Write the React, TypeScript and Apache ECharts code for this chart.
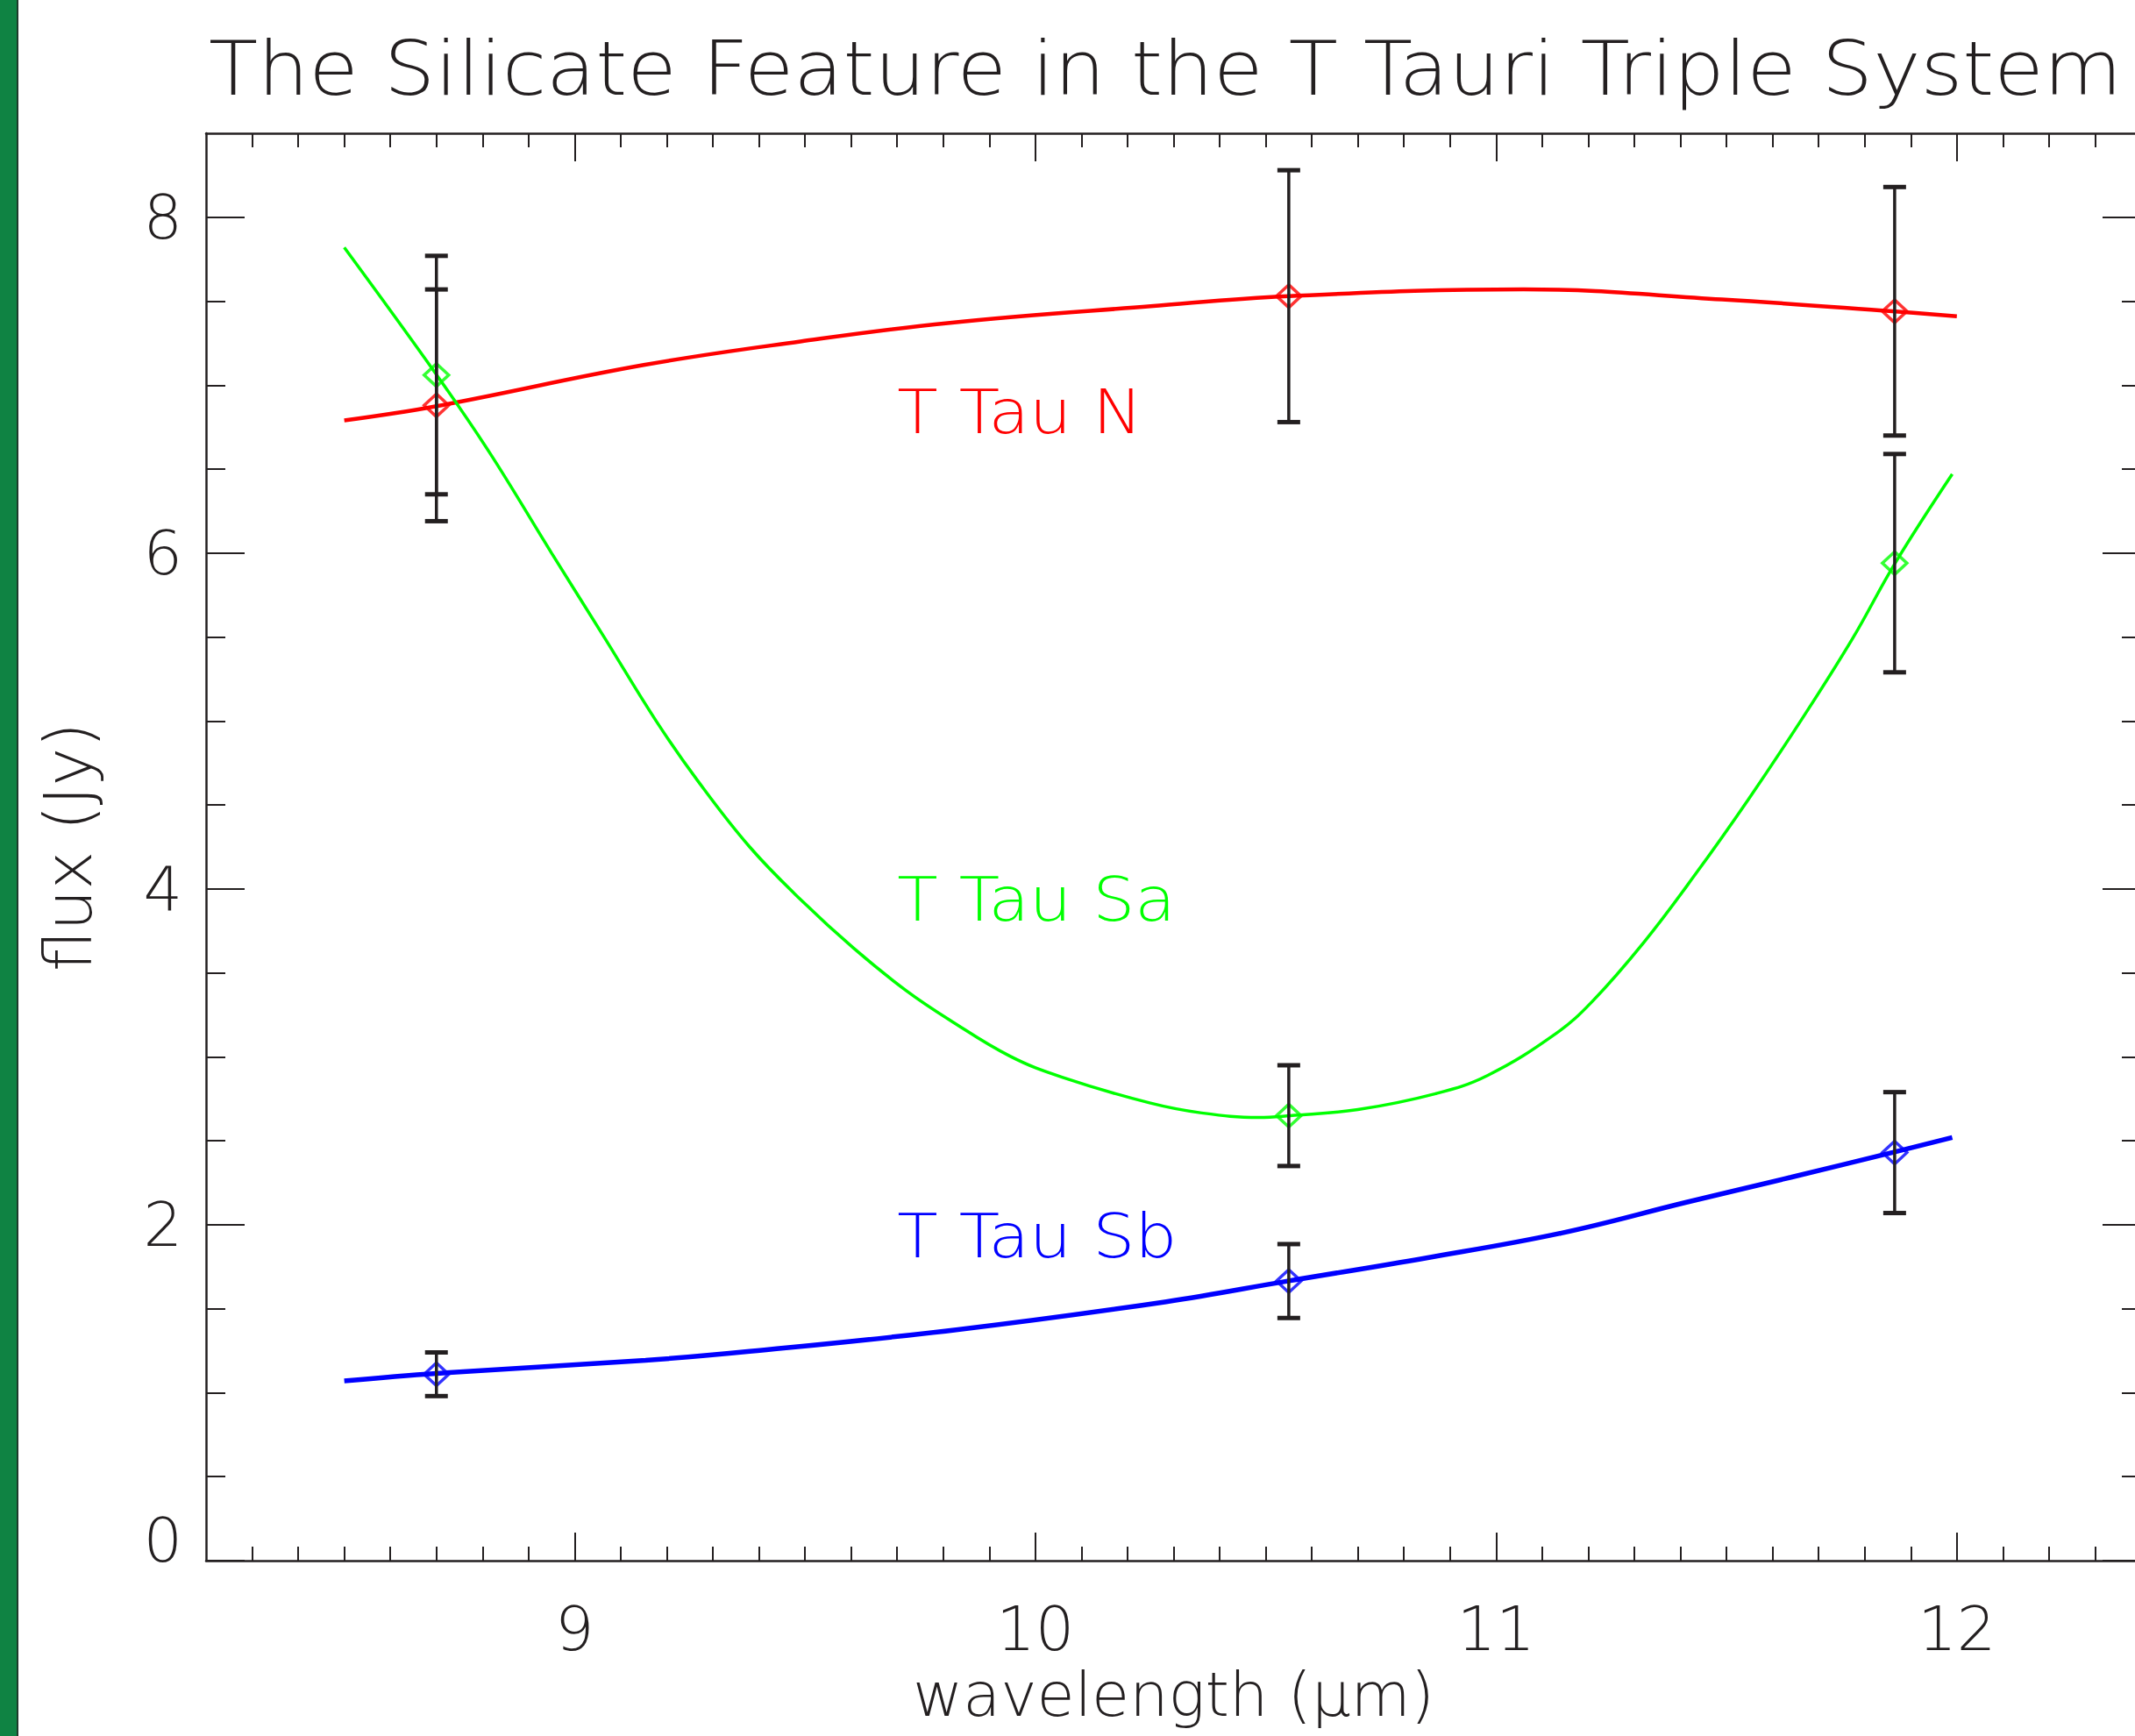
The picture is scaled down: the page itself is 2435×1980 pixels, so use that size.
import React, { useEffect, useRef } from 'react';
import * as echarts from 'echarts';

// ---- data ----
const pointWavelengths = [8.70, 10.55, 11.865];
const fluxN = [6.88, 7.53, 7.44];
const errN = [0.69, 0.75, 0.74];
const fluxSa = [7.06, 2.65, 5.94];
const errSa = [0.71, 0.30, 0.65];
const fluxSb = [1.11, 1.665, 2.43];
const errSb = [0.13, 0.22, 0.36];

const curveNx = [8.50, 8.70, 9.15, 9.49, 9.81, 10.25, 10.55, 11.06, 11.49, 11.86, 12.0];
const curveNy = [6.79, 6.875, 7.12, 7.26, 7.37, 7.47, 7.53, 7.57, 7.51, 7.44, 7.41];

const curveSax = [8.50, 8.70, 8.815, 8.95, 9.064, 9.177, 9.267, 9.38, 9.493, 9.606, 9.719, 9.815, 9.945, 10.058, 10.248, 10.361, 10.485, 10.553, 10.70, 10.869, 10.982, 11.129, 11.208, 11.321, 11.434, 11.547, 11.66, 11.773, 11.866, 11.99];
const curveSay = [7.82, 7.063, 6.60, 6.0, 5.50, 5.00, 4.645, 4.25, 3.93, 3.646, 3.396, 3.218, 3.004, 2.879, 2.726, 2.666, 2.639, 2.65, 2.686, 2.781, 2.89, 3.137, 3.328, 3.683, 4.093, 4.531, 4.996, 5.488, 5.94, 6.47];

const curveSbx = [8.50, 8.70, 9.154, 9.38, 9.832, 10.284, 10.55, 10.849, 11.142, 11.413, 11.64, 11.861, 11.99];
const curveSby = [1.07, 1.115, 1.193, 1.246, 1.376, 1.542, 1.666, 1.803, 1.951, 2.134, 2.283, 2.431, 2.52];

const labelNames = ['T Tau N', 'T Tau Sa', 'T Tau Sb'];
const labelX = [9.7, 9.7, 9.7];
const labelY = [6.84, 3.935, 1.93];

const xTickValues = [9, 10, 11, 12];
const yTickValues = [0, 2, 4, 6, 8];
const xMinorTickValues = [8.3, 8.4, 8.5, 8.6, 8.7, 8.8, 8.9, 9.1, 9.2, 9.3, 9.4, 9.5, 9.6, 9.7, 9.8, 9.9, 10.1, 10.2, 10.3, 10.4, 10.5, 10.6, 10.7, 10.8, 10.9, 11.1, 11.2, 11.3, 11.4, 11.5, 11.6, 11.7, 11.8, 11.9, 12.1, 12.2, 12.3];
const yMinorTickValues = [0.5, 1, 1.5, 2.5, 3, 3.5, 4.5, 5, 5.5, 6.5, 7, 7.5];

const title = 'The Silicate Feature in the T Tauri Triple System';
const xName = 'wavelength (\u03bcm)';
const yName = 'flux (Jy)';

const RED = '#ff0000';
const GREEN = '#00ff00';
const BLUE = '#0000ff';
const INK = '#231f20';
const FONT = '"DejaVu Sans"';
const WEIGHT = 200;

const zip = (a: number[], b: number[]) => a.map((v, i) => [v, b[i]]);

export default function App() {
  const ref = useRef<HTMLDivElement>(null);
  useEffect(() => {
    document.body.style.margin = '0';
    document.body.style.overflow = 'hidden';
    const chart = echarts.init(ref.current!, null, { renderer: 'svg' });

    const axisBase = {
      type: 'value' as const,
      axisLine: { show: true, onZero: false, lineStyle: { color: INK, width: 2.5 } },
      splitLine: { show: false },
      axisLabel: { show: false },
    };
    const xBase = { ...axisBase, min: 8.2, max: 12.4 };
    const yBase = { ...axisBase, min: 0, max: 8.5 };

    const errData = [
      ...pointWavelengths.map((x, i) => [x, fluxN[i], errN[i]]),
      ...pointWavelengths.map((x, i) => [x, fluxSa[i], errSa[i]]),
      ...pointWavelengths.map((x, i) => [x, fluxSb[i], errSb[i]]),
    ];
    const colors = [RED, GREEN, BLUE];

    const markerSeries = (data: number[], color: string) => ({
      type: 'scatter',
      data: pointWavelengths.map((x, i) => [x, data[i]]),
      symbol: 'diamond',
      symbolSize: [28, 26],
      itemStyle: { color: 'rgba(0,0,0,0)', borderColor: color, borderWidth: 3.5 },
      z: 4,
    });

    chart.setOption({
      animation: false,
      backgroundColor: '#ffffff',
      graphic: [
        { type: 'rect', shape: { x: 0, y: 0, width: 19, height: 1980 }, style: { fill: '#0f8343' } },
        { type: 'rect', shape: { x: 19, y: 0, width: 2, height: 1980 }, style: { fill: '#1d3b2b' } },
        {
          type: 'text',
          x: 238,
          y: 79,
          scaleX: 1.08,
          style: {
            text: title,
            fill: INK,
            fontSize: 85,
            fontFamily: FONT,
            fontWeight: WEIGHT,
            align: 'left',
            verticalAlign: 'middle',
          },
        },
      ],
      grid: { left: 235, right: -7, top: 152, bottom: 200, containLabel: false, outerBoundsMode: 'none' },
      xAxis: [
        {
          ...xBase,
          position: 'bottom',
          axisTick: { show: true, inside: true, length: 32, customValues: xTickValues, lineStyle: { color: INK, width: 2 } },
          axisLabel: { show: true, customValues: xTickValues, margin: 43, fontSize: 70, fontFamily: FONT, fontWeight: WEIGHT, color: INK },
          name: xName,
          nameLocation: 'middle',
          nameGap: 116,
          nameTextStyle: { fontSize: 70, lineHeight: 70, fontFamily: FONT, fontWeight: WEIGHT, color: INK },
        },
        {
          ...xBase,
          position: 'bottom',
          axisLine: { show: false, onZero: false },
          axisTick: { show: true, inside: true, length: 16, customValues: xMinorTickValues, lineStyle: { color: INK, width: 2 } },
        },
        {
          ...xBase,
          position: 'top',
          axisTick: { show: true, inside: true, length: 32, customValues: xTickValues, lineStyle: { color: INK, width: 2 } },
        },
        {
          ...xBase,
          position: 'top',
          axisLine: { show: false, onZero: false },
          axisTick: { show: true, inside: true, length: 16, customValues: xMinorTickValues, lineStyle: { color: INK, width: 2 } },
        },
      ],
      yAxis: [
        {
          ...yBase,
          position: 'left',
          axisTick: { show: true, inside: true, length: 44, customValues: yTickValues, lineStyle: { color: INK, width: 2 } },
          axisLabel: {
            show: true,
            customValues: yTickValues,
            margin: 27,
            fontSize: 70,
            lineHeight: 46,
            fontFamily: FONT,
            fontWeight: WEIGHT,
            color: INK,
            formatter: (v: number) => (v === 0 ? '0\n' : String(v)),
          },
          name: yName,
          nameLocation: 'middle',
          nameGap: 120,
          nameTextStyle: { fontSize: 74, fontFamily: FONT, fontWeight: WEIGHT, color: INK },
        },
        {
          ...yBase,
          position: 'left',
          axisLine: { show: false, onZero: false },
          axisTick: { show: true, inside: true, length: 22, customValues: yMinorTickValues, lineStyle: { color: INK, width: 2 } },
        },
        {
          ...yBase,
          position: 'right',
          axisTick: { show: true, inside: true, length: 44, customValues: yTickValues, lineStyle: { color: INK, width: 2 } },
        },
        {
          ...yBase,
          position: 'right',
          axisLine: { show: false, onZero: false },
          axisTick: { show: true, inside: true, length: 22, customValues: yMinorTickValues, lineStyle: { color: INK, width: 2 } },
        },
      ],
      series: [
        { type: 'line', data: zip(curveNx, curveNy), smooth: 0.4, showSymbol: false, lineStyle: { color: RED, width: 4.5 }, z: 3 },
        { type: 'line', data: zip(curveSax, curveSay), smooth: 0.4, showSymbol: false, lineStyle: { color: GREEN, width: 3.5 }, z: 3 },
        { type: 'line', data: zip(curveSbx, curveSby), smooth: 0.4, showSymbol: false, lineStyle: { color: BLUE, width: 5.5 }, z: 3 },
        markerSeries(fluxN, RED),
        markerSeries(fluxSa, GREEN),
        markerSeries(fluxSb, BLUE),
        {
          type: 'custom',
          data: errData,
          z: 5,
          clip: false,
          renderItem: (_p: any, api: any) => {
            const x = api.value(0);
            const y = api.value(1);
            const e = api.value(2);
            const top = api.coord([x, y + e]);
            const bot = api.coord([x, y - e]);
            const hw = 13;
            const st = { stroke: INK, lineWidth: 3.5 };
            const cs = { stroke: INK, lineWidth: 5 };
            return {
              type: 'group',
              children: [
                { type: 'line', shape: { x1: top[0], y1: top[1], x2: bot[0], y2: bot[1] }, style: st },
                { type: 'line', shape: { x1: top[0] - hw, y1: top[1], x2: top[0] + hw, y2: top[1] }, style: cs },
                { type: 'line', shape: { x1: bot[0] - hw, y1: bot[1], x2: bot[0] + hw, y2: bot[1] }, style: cs },
              ],
            };
          },
        },
        {
          type: 'custom',
          data: labelNames.map((_n, i) => [labelX[i], labelY[i], i]),
          z: 6,
          renderItem: (_p: any, api: any) => {
            const idx = api.value(2);
            const pt = api.coord([api.value(0), api.value(1)]);
            return {
              type: 'text',
              x: pt[0],
              y: pt[1],
              scaleX: 1.1,
              style: {
                text: labelNames[idx],
                fill: colors[idx],
                fontSize: 69,
                fontFamily: FONT,
                fontWeight: WEIGHT,
                align: 'left',
                verticalAlign: 'middle',
              },
            };
          },
        },
      ],
    });
    return () => chart.dispose();
  }, []);
  return <div ref={ref} style={{ width: 2435, height: 1980 }} />;
}
